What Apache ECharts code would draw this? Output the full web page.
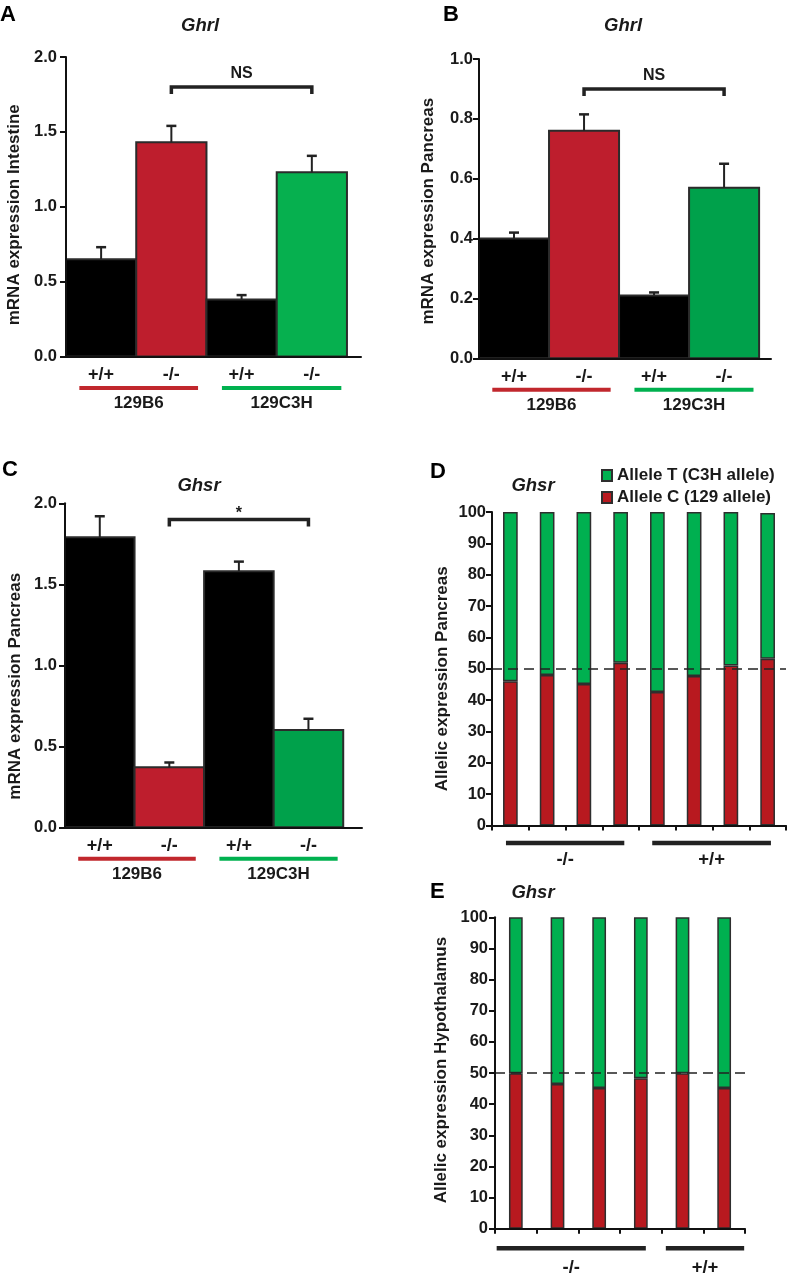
<!DOCTYPE html>
<html><head><meta charset="utf-8">
<script src="https://cdn.jsdelivr.net/npm/echarts@6/dist/echarts.min.js"></script>
<style>html,body{margin:0;padding:0;background:#fff}#c{width:787px;height:1282px}</style>
</head><body><div id="c"></div>
<script>
// ---------------- DATA ----------------
const genotypeLabels = ['+/+', '-/-', '+/+', '-/-'];
const strainLabels = ['129B6', '129C3H'];
const strainRanges = [[0, 1], [2, 3]];

const meanA = [0.65, 1.43, 0.38, 1.23];
const semA  = [0.08, 0.11, 0.03, 0.11];
const meanB = [0.40, 0.76, 0.21, 0.57];
const semB  = [0.02, 0.055, 0.01, 0.08];
const meanC = [1.79, 0.37, 1.58, 0.60];
const semC  = [0.13, 0.03, 0.06, 0.07];

const bracketA = [1, 3, 1.80]; const bracketLabelA = 'NS';
const bracketB = [1, 3, 0.90]; const bracketLabelB = 'NS';
const bracketC = [1, 3, 1.90]; const bracketLabelC = '*';

const samplesD = ['1', '2', '3', '4', '5', '6', '7', '8'];
const alleleC_D = [46.0, 48.0, 45.1, 51.9, 42.6, 47.7, 51.0, 53.2];
const alleleT_D = [54.0, 52.0, 54.9, 48.1, 57.4, 52.3, 49.0, 46.5];
const groupLabelsD = ['-/-', '+/+'];
const groupRangesD = [[0, 3], [4, 7]];

const samplesE = ['1', '2', '3', '4', '5', '6'];
const alleleC_E = [49.9, 46.5, 45.2, 48.3, 49.9, 45.2];
const alleleT_E = [50.1, 53.5, 54.8, 51.7, 50.1, 54.8];
const groupLabelsE = ['-/-', '+/+'];
const groupRangesE = [[0, 3], [4, 5]];

const alleleNames = ['Allele T (C3H allele)', 'Allele C (129 allele)'];
const referenceLine = 50;

// ---------------- STYLE ----------------
const FONT = "'Liberation Sans', Arial, Helvetica, sans-serif";
const INK = '#1a1a1a';
const RED = '#be1e2d';
const GREEN_A = '#06b04f';
const GREEN_BC = '#00a14b';
const RED_DE = '#b8191f';
const GREEN_DE = '#00b050';
const LINE_RED = '#c1272d';
const LINE_GREEN = '#00b14f';

const chart = echarts.init(document.getElementById('c'));

function barRender(colors) {
  return function (params, api) {
    const i = api.value(0), v = api.value(1);
    const tl = api.coord([i - 0.5, v]), br = api.coord([i + 0.5, 0]);
    return { type: 'rect', shape: { x: tl[0], y: tl[1], width: br[0] - tl[0], height: br[1] - tl[1] },
      style: { fill: colors[i], stroke: '#2b2b2b', lineWidth: 2 } };
  };
}
function errRender(params, api) {
  const i = api.value(0), m = api.value(1), s = api.value(2);
  const p0 = api.coord([i, m]), p1 = api.coord([i, m + s]);
  return { type: 'group', children: [
    { type: 'line', shape: { x1: p0[0], y1: p0[1], x2: p1[0], y2: p1[1] }, style: { stroke: '#222', lineWidth: 2 } },
    { type: 'line', shape: { x1: p1[0] - 5, y1: p1[1], x2: p1[0] + 5, y2: p1[1] }, style: { stroke: '#222', lineWidth: 2.5 } }
  ] };
}
function bracketRender(label, labelOff) {
  return function (params, api) {
    const a = api.value(0), b = api.value(1), y = api.value(2);
    const p0 = api.coord([a, y]), p1 = api.coord([b, y]);
    return { type: 'group', children: [
      { type: 'polyline', shape: { points: [[p0[0], p0[1] + 7], [p0[0], p0[1]], [p1[0], p1[1]], [p1[0], p1[1] + 7]] },
        style: { stroke: '#222', lineWidth: 3.5, fill: null } },
      { type: 'text', style: { text: label, x: (p0[0] + p1[0]) / 2, y: p0[1] - labelOff, align: 'center', verticalAlign: 'middle',
        font: 'bold 16px ' + FONT, fill: INK } }
    ] };
  };
}
function genoRender(labels, offY) {
  return function (params, api) {
    const i = api.value(0); const p = api.coord([i, 0]);
    return { type: 'text', style: { text: labels[i], x: p[0], y: p[1] + offY, align: 'center', verticalAlign: 'middle',
      font: 'bold 18px ' + FONT, fill: INK } };
  };
}
function groupRender(labels, colors, pads, lineOff, labelOff, lineW, fontSize) {
  return function (params, api) {
    const k = api.value(0), a = api.value(1), b = api.value(2);
    const band = api.size([1, 0])[0];
    const pa = api.coord([a, 0]), pb = api.coord([b, 0]);
    const x0 = pa[0] + pads[k][0] * band, x1 = pb[0] + pads[k][1] * band;
    const y = pa[1];
    return { type: 'group', children: [
      { type: 'line', shape: { x1: x0, y1: y + lineOff, x2: x1, y2: y + lineOff }, style: { stroke: colors[k], lineWidth: lineW } },
      { type: 'text', style: { text: labels[k], x: (x0 + x1) / 2, y: y + labelOff, align: 'center', verticalAlign: 'middle',
        font: 'bold ' + fontSize + 'px ' + FONT, fill: INK } }
    ] };
  };
}

const panels = [
  { letter: 'A', gene: 'Ghrl', grid: { left: 66, top: 57, width: 295, height: 299.5 }, xMax: 3.70, yMax: 2, yInt: 0.5,
    name: 'mRNA expression Intestine', nameGap: 43, namePad: [0, 16, 0, 0], labelMargin: 9,
    mean: meanA, sem: semA, colors: ['#000', RED, '#000', GREEN_A], bracket: bracketA, bracketLabel: bracketLabelA, bracketLabelOff: 13,
    letterPos: [0, 4], titleX: 200, titleY: 16 },
  { letter: 'B', gene: 'Ghrl', grid: { left: 479, top: 59, width: 292, height: 299.3 }, xMax: 3.67, yMax: 1, yInt: 0.2,
    name: 'mRNA expression Pancreas', nameGap: 42, namePad: [0, 5, 0, 0], labelMargin: 6,
    mean: meanB, sem: semB, colors: ['#000', RED, '#000', GREEN_BC], bracket: bracketB, bracketLabel: bracketLabelB, bracketLabelOff: 13,
    letterPos: [443, 4], titleX: 623, titleY: 16 },
  { letter: 'C', gene: 'Ghsr', grid: { left: 65, top: 503.3, width: 297, height: 324 }, xMax: 3.77, yMax: 2, yInt: 0.5,
    name: 'mRNA expression Pancreas', nameGap: 41, namePad: [0, 42, 0, 0], labelMargin: 8,
    mean: meanC, sem: semC, colors: ['#000', RED, '#000', GREEN_BC], bracket: bracketC, bracketLabel: bracketLabelC, bracketLabelOff: 6,
    letterPos: [2, 459], titleX: 199, titleY: 476 }
];

const option = {
  animation: false,
  backgroundColor: '#fff',
  textStyle: { fontFamily: FONT },
  title: [], grid: [], xAxis: [], yAxis: [], series: [],
  legend: {
    data: alleleNames, orient: 'vertical', left: 601, top: 467, itemWidth: 10, itemHeight: 11, itemGap: 5,
    icon: 'rect', selectedMode: false, padding: 0,
    textStyle: { fontFamily: FONT, fontSize: 17, fontWeight: 'bold', color: INK }
  }
};

function addTitle(letter, lx, ly, gene, gx, gy) {
  option.title.push({ text: letter, left: lx, top: ly, padding: 0,
    textStyle: { fontFamily: FONT, fontSize: 22, fontWeight: 'bold', color: '#000' } });
  option.title.push({ text: gene, left: gx, top: gy, padding: 0, textAlign: 'center',
    textStyle: { fontFamily: FONT, fontSize: 18.5, fontWeight: 'bold', fontStyle: 'italic', color: INK } });
}

function yAxisCfg(gi, max, interval, name, nameGap, namePad, margin, decimals) {
  return {
    type: 'value', gridIndex: gi, min: 0, max: max, interval: interval, z: 5,
    name: name, nameLocation: 'middle', nameGap: nameGap, nameRotate: 90,
    nameTextStyle: { fontFamily: FONT, fontSize: 17, fontWeight: 'bold', color: INK, padding: namePad },
    axisLine: { show: true, onZero: false, lineStyle: { color: '#111', width: 2 } },
    axisTick: { show: true, inside: false, length: 6, lineStyle: { color: '#111', width: 2 } },
    axisLabel: { show: true, margin: margin, fontFamily: FONT, fontSize: 16.5, fontWeight: 'bold', color: INK,
      formatter: v => decimals ? v.toFixed(decimals) : String(v) },
    splitLine: { show: false }
  };
}

panels.forEach((p, gi) => {
  addTitle(p.letter, p.letterPos[0], p.letterPos[1], p.gene, p.titleX, p.titleY);
  option.grid.push(Object.assign({ containLabel: false }, p.grid));
  option.xAxis.push({ type: 'value', gridIndex: gi, min: -0.5, max: p.xMax, z: 5,
    axisLine: { show: true, onZero: false, lineStyle: { color: '#111', width: 2 } },
    axisTick: { show: false }, axisLabel: { show: false }, splitLine: { show: false } });
  option.yAxis.push(yAxisCfg(gi, p.yMax, p.yInt, p.name, p.nameGap, p.namePad, p.labelMargin, 1));
  option.series.push({ type: 'custom', name: p.letter + ' bars', xAxisIndex: gi, yAxisIndex: gi, clip: false, z: 2,
    renderItem: barRender(p.colors), data: p.mean.map((v, i) => [i, v]) });
  option.series.push({ type: 'custom', name: p.letter + ' sem', xAxisIndex: gi, yAxisIndex: gi, clip: false, z: 3,
    renderItem: errRender, data: p.mean.map((v, i) => [i, v, p.sem[i]]) });
  option.series.push({ type: 'custom', name: p.letter + ' bracket', xAxisIndex: gi, yAxisIndex: gi, clip: false, z: 3,
    renderItem: bracketRender(p.bracketLabel, p.bracketLabelOff), data: [p.bracket] });
  option.series.push({ type: 'custom', name: p.letter + ' genotypes', xAxisIndex: gi, yAxisIndex: gi, clip: false,
    renderItem: genoRender(genotypeLabels, 18.5), data: genotypeLabels.map((g, i) => [i, 0]) });
  option.series.push({ type: 'custom', name: p.letter + ' strains', xAxisIndex: gi, yAxisIndex: gi, clip: false,
    renderItem: groupRender(strainLabels, [LINE_RED, LINE_GREEN], [[-0.31, 0.38], [-0.28, 0.42]], 31.5, 47, 4, 17),
    data: strainRanges.map((r, k) => [k, r[0], r[1]]) });
});

// ----- allelic panels D, E -----
const allelic = [
  { letter: 'D', grid: { left: 492, top: 512, width: 294, height: 313.5 }, cats: samplesD, red: alleleC_D, green: alleleT_D,
    name: 'Allelic expression Pancreas', nameGap: 41, namePad: [0, 20, 0, 0], margin: 6, barW: '40%',
    gLabels: groupLabelsD, gRanges: groupRangesD, pads: [[-0.12, 0.1], [-0.14, 0.09]], lineOff: 17.5, labelOff: 34,
    letterPos: [430, 461], titleX: 533, titleY: 476 },
  { letter: 'E', grid: { left: 495, top: 917.3, width: 250, height: 311.4 }, cats: samplesE, red: alleleC_E, green: alleleT_E,
    name: 'Allelic expression Hypothalamus', nameGap: 45, namePad: [0, 0, 0, 6], margin: 7, barW: '33%',
    gLabels: groupLabelsE, gRanges: groupRangesE, pads: [[-0.46, 0.12], [-0.4, 0.48]], lineOff: 19.6, labelOff: 39.5,
    letterPos: [430, 881], titleX: 533, titleY: 883 }
];

allelic.forEach((p, j) => {
  const gi = panels.length + j;
  addTitle(p.letter, p.letterPos[0], p.letterPos[1], 'Ghsr', p.titleX, p.titleY);
  option.grid.push(Object.assign({ containLabel: false }, p.grid));
  option.xAxis.push({ type: 'category', gridIndex: gi, data: p.cats, boundaryGap: true, z: 5,
    axisLine: { show: true, onZero: false, lineStyle: { color: '#111', width: 2 } },
    axisTick: { show: true, alignWithLabel: false, interval: 0, inside: false, length: 5, lineStyle: { color: '#111', width: 2 } },
    axisLabel: { show: false }, splitLine: { show: false } });
  option.yAxis.push(yAxisCfg(gi, 100, 10, p.name, p.nameGap, p.namePad, p.margin, 0));
  const stackName = 'stack' + p.letter;
  option.series.push({ type: 'bar', name: alleleNames[1], xAxisIndex: gi, yAxisIndex: gi, stack: stackName,
    barWidth: p.barW, data: p.red,
    itemStyle: { color: RED_DE, borderColor: '#2e2e2e', borderWidth: 1.5 } });
  option.series.push({ type: 'bar', name: alleleNames[0], xAxisIndex: gi, yAxisIndex: gi, stack: stackName,
    barWidth: p.barW, data: p.green,
    itemStyle: { color: GREEN_DE, borderColor: '#2e2e2e', borderWidth: 1.5 },
    markLine: { silent: true, symbol: ['none', 'none'], label: { show: false },
      lineStyle: { type: [10, 6], color: '#222', width: 1.6 }, data: [{ yAxis: referenceLine }] } });
  option.series.push({ type: 'custom', name: p.letter + ' groups', xAxisIndex: gi, yAxisIndex: gi, clip: false,
    renderItem: groupRender(p.gLabels, ['#222', '#222'], p.pads, p.lineOff, p.labelOff, 4.5, 18.5),
    data: p.gRanges.map((r, k) => [k, r[0], r[1]]) });
});

chart.setOption(option);
</script>
</body></html>
